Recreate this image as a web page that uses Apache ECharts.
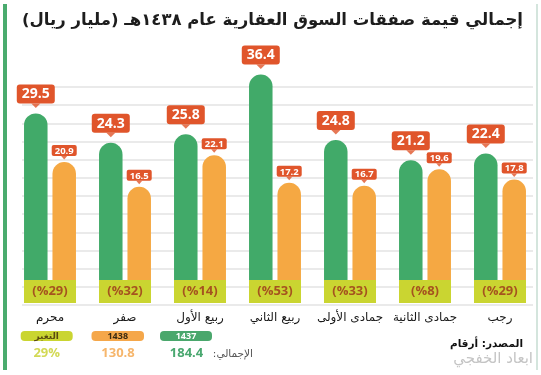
<!DOCTYPE html>
<html lang="ar">
<head>
    <meta charset="UTF-8">
    <title>إجمالي قيمة صفقات السوق العقارية</title>
    <script src="https://cdn.jsdelivr.net/npm/echarts@6/dist/echarts.min.js"></script>
    <style>
        body {
            padding: 0;
            margin: 0;
            overflow: hidden;
            background: #fff;
        }
        #echart {
            width: 541px;
            height: 375px;
        }
    </style>
</head>
<body>
<div id="echart"></div>
<script>
const RLM = '\u200F';
const titleText = 'إجمالي قيمة صفقات السوق العقارية عام ١٤٣٨هـ (مليار ريال)';
const months = ['محرم', 'صفر', 'ربيع الأول', 'ربيع الثاني', 'جمادى الأولى', 'جمادى الثانية', 'رجب'];
const values1437 = [29.5, 24.3, 25.8, 36.4, 24.8, 21.2, 22.4];
const values1438 = [20.9, 16.5, 22.1, 17.2, 16.7, 19.6, 17.8];
const changePct = [29, 32, 14, 53, 33, 8, 29];
const years = ['1437', '1438'];
const changeName = 'التغير';
const totals = [184.4, 130.8];
const totalChange = '29%';
const totalLabel = 'الإجمالي:';
const sourceText = 'المصدر: أرقام';
const watermark = 'ابعاد الخفجي';

const GREEN = '#41aa69';
const ORANGE = '#f5a843';
const RED = '#e0552b';
const LIME = '#cad531';
const AR = 'DejaVu Sans';
const NUM = 'Open Sans';

// small down-pointing triangle under each value tag
const pointer = 'path://M0,0L2,0L1,1Z';

let ec = echarts.init(document.getElementById('echart'), null, {renderer: 'canvas'});

let pill = (x, w, fill, txt, txtColor) => ({
    type: 'group',
    children: [
        {type: 'rect', shape: {x: x, y: 331, width: w, height: 10, r: 4}, style: {fill: fill}},
        {type: 'text', x: x + w / 2, y: 336.5, style: {text: txt, fill: txtColor, align: 'center', verticalAlign: 'middle',
            fontSize: 9, fontWeight: 'bold', fontFamily: NUM + ',' + AR}}
    ]
});

let option = {
    backgroundColor: '#fff',
    animation: false,
    title: {
        text: RLM + titleText + RLM,
        right: 13,
        top: 7,
        textStyle: {fontSize: 16.5, fontWeight: 'bold', color: '#1d1d1d', fontFamily: AR}
    },
    grid: [
        {left: 12.5, right: 3.5, top: 88, bottom: 95},
        {left: 22, right: 8, top: 87, bottom: 70}
    ],
    xAxis: [
        {
            type: 'category',
            gridIndex: 0,
            data: months,
            axisLine: {show: false},
            axisTick: {show: false},
            axisLabel: {
                interval: 0,
                margin: 0,
                formatter: (v, i) => `{p|(%${changePct[i]})}\n{m|${v}}`,
                rich: {
                    p: {width: 52, height: 23, lineHeight: 23, backgroundColor: LIME, color: '#a5531f',
                        fontSize: 13, fontWeight: 'bold', fontFamily: NUM, align: 'center'},
                    m: {lineHeight: 29, fontSize: 12, color: '#1a1a1a', fontFamily: AR, align: 'center'}
                }
            }
        },
        {type: 'value', gridIndex: 1, show: false, min: 0, max: 1}
    ],
    yAxis: [
        {type: 'value', gridIndex: 0, min: 0, max: 34, show: false},
        {
            type: 'value', gridIndex: 1, min: 0, max: 12, interval: 1,
            axisLine: {show: false}, axisTick: {show: false}, axisLabel: {show: false},
            splitLine: {lineStyle: {color: '#e3e3e3', width: 1.5}}
        }
    ],
    series: [
        {
            name: years[0],
            type: 'bar',
            data: values1437,
            barWidth: 23.5,
            barGap: '21%',
            clip: false,
            z: 3,
            itemStyle: {color: GREEN, borderRadius: [12, 12, 0, 0]},
            label: {
                show: true, position: 'top', distance: 10,
                color: '#fff', fontSize: 14, fontWeight: 'bold', fontFamily: NUM,
                backgroundColor: RED, padding: [2, 5, 1, 5], lineHeight: 16, borderRadius: 3
            }
        },
        {
            name: years[1],
            type: 'bar',
            data: values1438,
            barWidth: 23.5,
            clip: false,
            z: 3,
            itemStyle: {color: ORANGE, borderRadius: [12, 12, 0, 0]},
            label: {
                show: true, position: 'top', distance: 6,
                color: '#fff', fontSize: 9.5, fontWeight: 'bold', fontFamily: NUM,
                backgroundColor: RED, padding: [1, 3, 0, 3], lineHeight: 10, borderRadius: 2
            }
        },
        {
            type: 'scatter',
            data: values1437,
            symbol: pointer,
            symbolKeepAspect: false,
            symbolSize: [9, 4.5],
            symbolOffset: [-14.2, -7.75],
            itemStyle: {color: RED},
            clip: false,
            silent: true,
            z: 4
        },
        {
            type: 'scatter',
            data: values1438,
            symbol: pointer,
            symbolKeepAspect: false,
            symbolSize: [6, 3.5],
            symbolOffset: [14.2, -4.25],
            itemStyle: {color: RED},
            clip: false,
            silent: true,
            z: 4
        }
    ],
    graphic: [
        {type: 'rect', shape: {x: 3, y: 4, width: 4, height: 366}, style: {fill: '#4aab6e'}},
        {type: 'line', shape: {x1: 537, y1: 4, x2: 537, y2: 370}, style: {stroke: '#c6dcd2', lineWidth: 1.5}},
        pill(160, 52, '#4aa76c', years[0], '#fff'),
        pill(91.5, 52.5, '#f5a74a', years[1], '#3a2a10'),
        pill(20.7, 52, LIME, changeName, '#5a4a10'),
        {type: 'text', x: 186.5, y: 353.5, style: {text: totals[0].toFixed(1), fill: '#4aa870', align: 'center', verticalAlign: 'middle',
            fontSize: 13, fontWeight: 'bold', fontFamily: NUM}},
        {type: 'text', x: 118, y: 353.5, style: {text: totals[1].toFixed(1), fill: '#f6b66c', align: 'center', verticalAlign: 'middle',
            fontSize: 13, fontWeight: 'bold', fontFamily: NUM}},
        {type: 'text', x: 46.7, y: 353.5, style: {text: totalChange, fill: '#d3d955', align: 'center', verticalAlign: 'middle',
            fontSize: 13, fontWeight: 'bold', fontFamily: NUM}},
        {type: 'text', x: 253, y: 354, style: {text: RLM + totalLabel + RLM, fill: '#555', align: 'right', verticalAlign: 'middle',
            fontSize: 10.5, fontFamily: AR}},
        {type: 'text', x: 523, y: 344, style: {text: RLM + sourceText + RLM, fill: '#111', align: 'right', verticalAlign: 'middle',
            fontSize: 10.5, fontWeight: 'bold', fontFamily: AR}},
        {type: 'text', x: 533, y: 359, style: {text: watermark, fill: '#c4c4c4', align: 'right', verticalAlign: 'middle',
            fontSize: 15, fontFamily: AR}}
    ]
};

ec.setOption(option);
</script>
</body>
</html>
